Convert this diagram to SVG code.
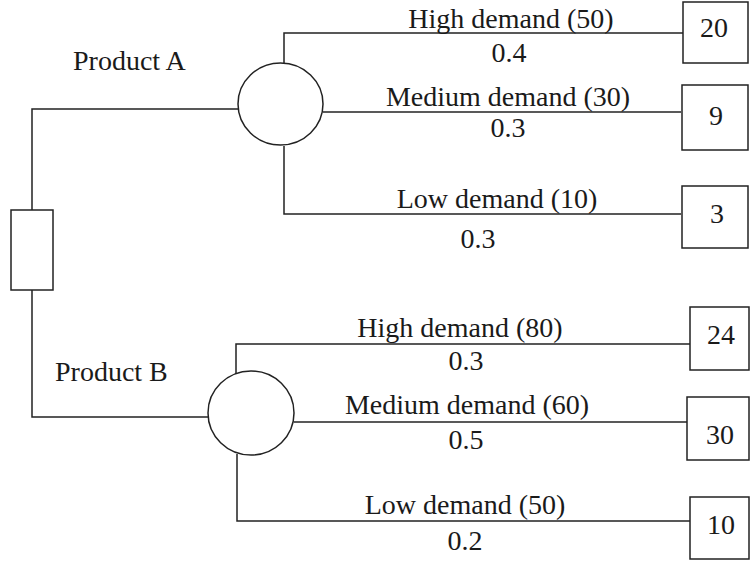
<svg xmlns="http://www.w3.org/2000/svg" width="750" height="564" viewBox="0 0 750 564">
<style>
text{font-family:"Liberation Serif","Times New Roman",serif;font-size:28px;fill:#1a1a1a}
.m{text-anchor:middle}
.ln{fill:none;stroke:#222;stroke-width:1.5}
.nd{fill:#fff;stroke:#222;stroke-width:1.5}
</style>
<rect width="750" height="564" fill="#fff"/>
<g id="connectors" class="ln">
<polyline points="32,210 32,109 238,109"/>
<polyline points="32,290 32,417 208,417"/>
<polyline points="284,63 284,33 683,33"/>
<line x1="323" y1="112" x2="681" y2="112"/>
<polyline points="284,146 284,214 681,214"/>
<polyline points="236,374 236,344 690,344"/>
<line x1="294" y1="422" x2="687" y2="422"/>
<polyline points="237,454 237,521 690,521"/>
</g>
<g id="decision"><rect class="nd" x="11" y="210" width="42" height="80"/></g>
<g id="chanceA"><ellipse class="nd" cx="280.5" cy="104" rx="42.5" ry="41"/></g>
<g id="chanceB"><ellipse class="nd" cx="251" cy="413" rx="43" ry="42"/></g>
<g id="endA1"><rect class="nd" x="683" y="2" width="65" height="61"/><text class="m" x="714" y="37">20</text></g>
<g id="endA2"><rect class="nd" x="682" y="85" width="66" height="65"/><text class="m" x="716" y="125">9</text></g>
<g id="endA3"><rect class="nd" x="682" y="186" width="66" height="62"/><text class="m" x="717" y="223">3</text></g>
<g id="endB1"><rect class="nd" x="690" y="307" width="59" height="63"/><text class="m" x="721" y="344">24</text></g>
<g id="endB2"><rect class="nd" x="687" y="397" width="62" height="63"/><text class="m" x="720" y="444">30</text></g>
<g id="endB3"><rect class="nd" x="690" y="497" width="59" height="62"/><text class="m" x="721" y="534">10</text></g>
<g id="labels">
<text x="73" y="70">Product A</text>
<text x="55" y="381">Product B</text>
<text class="m" x="511" y="28">High demand (50)</text>
<text class="m" x="509" y="62">0.4</text>
<text class="m" x="508" y="106">Medium demand (30)</text>
<text class="m" x="508" y="137">0.3</text>
<text class="m" x="497" y="208">Low demand (10)</text>
<text class="m" x="478" y="248">0.3</text>
<text class="m" x="460" y="337">High demand (80)</text>
<text class="m" x="466" y="370">0.3</text>
<text class="m" x="467" y="414">Medium demand (60)</text>
<text class="m" x="466" y="449">0.5</text>
<text class="m" x="465" y="514">Low demand (50)</text>
<text class="m" x="465" y="550">0.2</text>
</g>
</svg>
